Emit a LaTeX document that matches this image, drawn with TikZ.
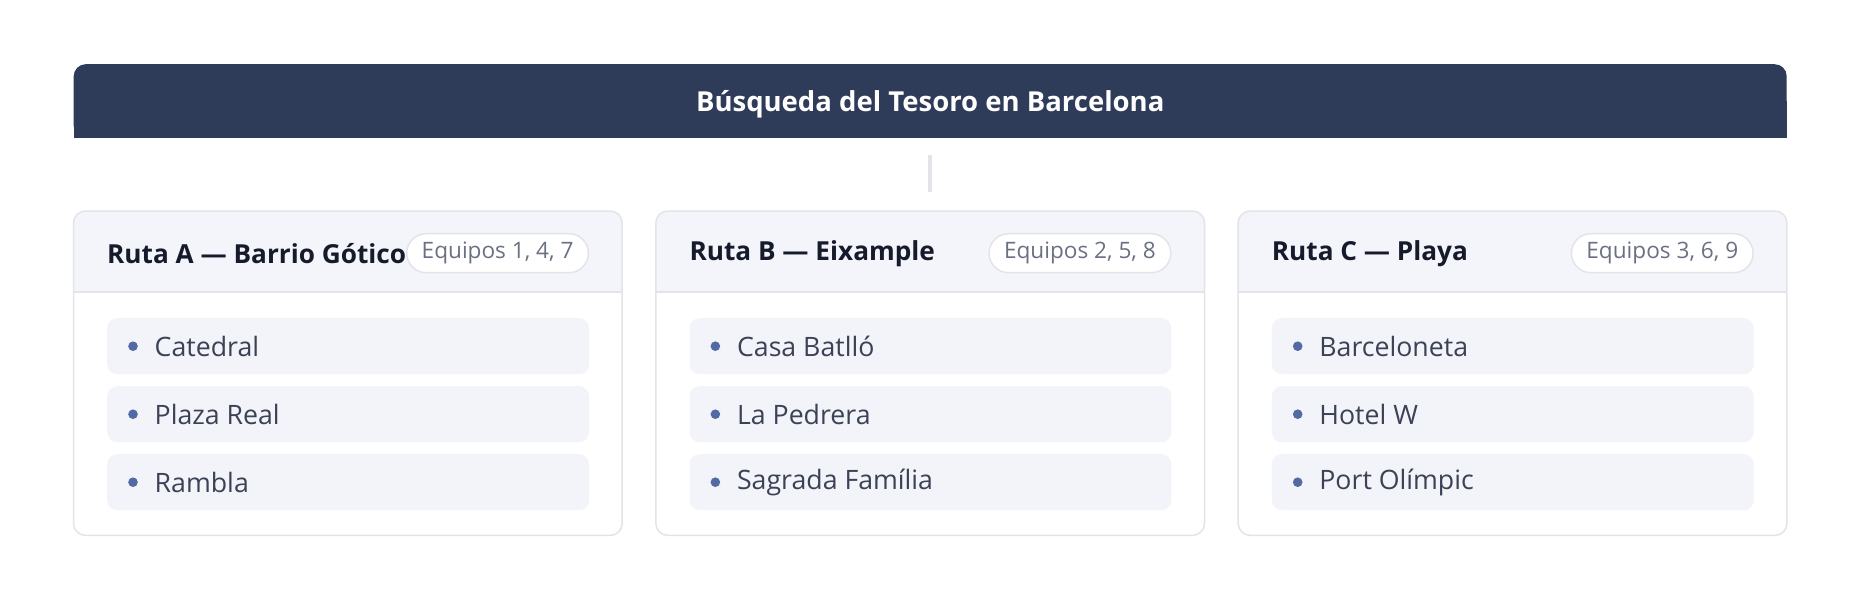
\documentclass[tikz,border=0pt]{standalone}
\usepackage{fontspec}
\setmainfont{Open Sans}
\definecolor{navy}{HTML}{2E3C5A}
\definecolor{cardborder}{HTML}{E2E4EA}
\definecolor{cardhead}{HTML}{F4F5FA}
\definecolor{itemfill}{HTML}{F3F4F9}
\definecolor{bulletc}{HTML}{5468A3}
\definecolor{itemtext}{HTML}{3B4255}
\definecolor{headtext}{HTML}{161B2C}
\definecolor{pilltext}{HTML}{6B7182}
\definecolor{connc}{HTML}{E2E4EA}
\newcommand\routecard[7]{%
  \node[cardbox] (#1) at (#2,211) {};
  \begin{scope}
    \clip[rounded corners=12pt] (#1.north west) rectangle (#1.south east);
    \fill[cardhead] (#1.north west) rectangle ([yshift=-80.8pt]#1.north east);
  \end{scope}
  \draw[cardborder, line width=1.5pt] ([yshift=-80.8pt]#1.north west) -- ([yshift=-80.8pt]#1.north east);
  \draw[cardborder, line width=1.5pt, rounded corners=12pt] (#1.north west) rectangle (#1.south east);
  \node[rtitle, anchor=west] (#1t) at ([xshift=33.5pt,yshift=-43pt]#1.north west) {#3};
  \node[pill, anchor=east] (#1p) at ([xshift=-33pt,yshift=-42.2pt]#1.north east) {#4};
  \node[itembox] (#1i1) at ([xshift=33.5pt,yshift=-107pt]#1.north west) {};
  \node[itembox] (#1i2) at ([xshift=33.5pt,yshift=-175pt]#1.north west) {};
  \node[itembox] (#1i3) at ([xshift=33.5pt,yshift=-243pt]#1.north west) {};
  \fill[bulletc] ([xshift=26pt]#1i1.west) circle (4.8pt);
  \fill[bulletc] ([xshift=26pt]#1i2.west) circle (4.8pt);
  \fill[bulletc] ([xshift=26pt]#1i3.west) circle (4.8pt);
  \node[itemlabel] (#1l1) at ([xshift=47.5pt]#1i1.west) {#5};
  \node[itemlabel] (#1l2) at ([xshift=47.5pt]#1i2.west) {#6};
  \node[itemlabel] (#1l3) at ([xshift=47.5pt]#1i3.west) {#7};
}
\begin{document}
\begin{tikzpicture}[x=1pt,y=-1pt,
  hdrbox/.style={fill=navy, rounded corners=12pt, minimum width=1713pt, minimum height=73.6pt, inner sep=0pt, anchor=north west},
  titletext/.style={text=white, font=\fontsize{27.5}{32}\selectfont\bfseries, inner sep=0pt},
  cardbox/.style={fill=white, minimum width=548.3pt, minimum height=324pt, inner sep=0pt, anchor=north west},
  rtitle/.style={text=headtext, font=\fontsize{26.2}{30}\selectfont\bfseries, inner sep=0pt},
  pill/.style={draw=cardborder, line width=1.5pt, fill=white, rounded corners=19.5pt, minimum height=39pt, inner xsep=15pt, inner ysep=0pt, text=pilltext, font=\fontsize{22.6}{26}\selectfont},
  itembox/.style={fill=itemfill, rounded corners=10pt, minimum width=481.8pt, minimum height=56pt, inner sep=0pt, anchor=north west},
  itemlabel/.style={text=itemtext, font=\fontsize{26.7}{31}\selectfont, inner sep=0pt, anchor=west},
  conn/.style={draw=connc, line width=3.5pt}
]
\useasboundingbox (0,0) rectangle (1860,600);
\fill[white] (0,0) rectangle (1860,600);
\node[hdrbox] (hdr) at (73.5,64) {};
\fill[navy] (hdr.west) rectangle (hdr.south east);
\node[titletext] (title) at ([yshift=-3.5pt]hdr.center) {Búsqueda del Tesoro en Barcelona};
\routecard{cardA}{73.5}{Ruta A — Barrio Gótico}{Equipos 1, 4, 7}{Catedral}{Plaza Real}{Rambla}
\routecard{cardB}{655.85}{Ruta B — Eixample}{Equipos 2, 5, 8}{Casa Batlló}{La Pedrera}{Sagrada Família}
\routecard{cardC}{1238.2}{Ruta C — Playa}{Equipos 3, 6, 9}{Barceloneta}{Hotel W}{Port Olímpic}
\draw[conn] ([yshift=-16.5pt]hdr.south) -- ([yshift=19pt]cardB.north);
\end{tikzpicture}
\end{document}
